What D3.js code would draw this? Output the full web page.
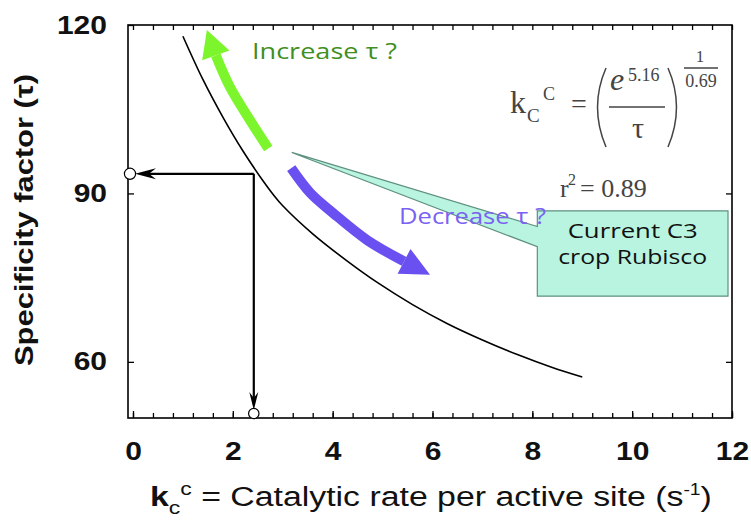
<!DOCTYPE html>
<html>
<head>
<meta charset="utf-8">
<script src="https://cdn.jsdelivr.net/npm/d3@7"></script>
<style>
  body { margin: 0; background: #fff; }
</style>
</head>
<body>
<div id="chart"></div>
<script>
// values
var kcat = [1.0, 1.4, 1.8, 2.2, 2.6, 2.8, 3.0, 3.6, 4.3, 4.9, 5.6, 6.3, 7.0, 7.7, 8.4, 9.0];
var tau  = [118, 110.3, 103.6, 97.6, 92.3, 89.9, 87.8, 82.8, 77.9, 74.1, 70.2, 66.8, 63.9, 61.3, 59.0, 57.3];
var currentPoint = [2.42, 93.5];          // current C3 crop rubisco (kc, tau)
var xMajor = [0, 2, 4, 6, 8, 10, 12];
var xMinor = d3.range(0, 12.001, 0.4);
var yMajor = [60, 90, 120];
var yRight = [60, 90];

var W = 751, H = 521;
var svg = d3.select("#chart").append("svg").attr("width", W).attr("height", H);

var x = d3.scaleLinear().domain([-0.1, 12]).range([128, 732]);
var y = d3.scaleLinear().domain([50, 120]).range([418, 25]);

var boldFont = "'Liberation Sans', Arial, sans-serif";
var serif = "'Liberation Serif', 'Times New Roman', serif";
var comic = "'Open Sans', sans-serif";

// callout (drawn first, texts go over it)
var bx0 = x(8.1), bx1 = x(11.92), by0 = y(86.9), by1 = y(71.7);
var tip = [x(3.18), y(97.3)];
svg.append("path")
  .attr("d", "M" + bx0 + "," + by0 + "L" + bx1 + "," + by0 + "L" + bx1 + "," + by1 +
             "L" + bx0 + "," + by1 + "L" + bx0 + "," + y(80.5) + "L" + tip[0] + "," + tip[1] +
             "L" + bx0 + "," + y(84.1) + "Z")
  .attr("fill", "#b8f4e0").attr("stroke", "#5f8f80").attr("stroke-width", 1.2);

svg.append("text").attr("x", (bx0 + bx1) / 2).attr("y", 238).attr("text-anchor", "middle")
  .attr("font-family", comic).attr("font-size", 20).attr("fill", "#111")
  .attr("textLength", 130).attr("lengthAdjust", "spacingAndGlyphs").text("Current C3");
svg.append("text").attr("x", (bx0 + bx1) / 2).attr("y", 264).attr("text-anchor", "middle")
  .attr("font-family", comic).attr("font-size", 20).attr("fill", "#111")
  .attr("textLength", 149).attr("lengthAdjust", "spacingAndGlyphs").text("crop Rubisco");

// the fitted curve
var pts = kcat.map(function (k, i) { return [k, tau[i]]; });
svg.append("path").datum(pts)
  .attr("d", d3.line().x(function (d) { return x(d[0]); }).y(function (d) { return y(d[1]); }).curve(d3.curveCatmullRom.alpha(0.5)))
  .attr("fill", "none").attr("stroke", "#000").attr("stroke-width", 1.6);

// thick arrows (body in data units, head from base to tip)
function bigArrow(body, tipPt, col, half) {
  var line = d3.line().x(function (d) { return x(d[0]); }).y(function (d) { return y(d[1]); }).curve(d3.curveCatmullRom);
  svg.append("path").attr("d", line(body)).attr("fill", "none").attr("stroke", col).attr("stroke-width", 10);
  var b = body[body.length - 1];
  var bx = x(b[0]), by = y(b[1]), tx = x(tipPt[0]), ty = y(tipPt[1]);
  var dx = tx - bx, dy = ty - by, L = Math.sqrt(dx * dx + dy * dy);
  var nx = -dy / L * half, ny = dx / L * half;
  svg.append("path")
    .attr("d", "M" + tx + "," + ty + "L" + (bx + nx) + "," + (by + ny) + "L" + (bx - nx) + "," + (by - ny) + "Z")
    .attr("fill", col);
}
bigArrow([[2.71, 98.0], [2.34, 103.1], [1.94, 109.0], [1.66, 114.6]], [1.48, 119.1], "#7df52c", 14.5);
bigArrow([[3.17, 94.5], [3.55, 90.1], [4.01, 86.5], [4.69, 81.7], [5.43, 77.9]], [5.95, 75.5], "#6a50f0", 14);

svg.append("text").attr("x", 252).attr("y", 59).attr("font-family", comic).attr("font-size", 22)
  .attr("fill", "#3f8f22").attr("textLength", 145).attr("lengthAdjust", "spacingAndGlyphs").text("Increase τ ?");
svg.append("text").attr("x", 399).attr("y", 224).attr("font-family", comic).attr("font-size", 22)
  .attr("fill", "#7a62f2").attr("textLength", 147).attr("lengthAdjust", "spacingAndGlyphs").text("Decrease τ ?");

// drop lines from the current rubisco point
var cx = x(currentPoint[0]), cy = y(currentPoint[1]);
var ax = x(-0.1), ay = y(50);
svg.append("path").attr("d", "M" + cx + "," + cy + "H" + (ax + 14) + "M" + cx + "," + cy + "V" + (ay - 14))
  .attr("stroke", "#000").attr("stroke-width", 2.2).attr("fill", "none");
svg.append("path")
  .attr("d", "M" + (ax + 7) + "," + cy + "L" + (ax + 28) + "," + (cy - 5.5) + "L" + (ax + 21) + "," + cy + "L" + (ax + 28) + "," + (cy + 5.5) + "Z")
  .attr("fill", "#000");
svg.append("path")
  .attr("d", "M" + cx + "," + (ay - 8) + "L" + (cx - 4.5) + "," + (ay - 26) + "L" + cx + "," + (ay - 20) + "L" + (cx + 4.5) + "," + (ay - 26) + "Z")
  .attr("fill", "#000");

// axes
function clean(g) {
  g.select(".domain").remove();
  g.selectAll("line").attr("stroke", "#000").attr("stroke-width", 1.3);
}
svg.append("g").attr("transform", "translate(0," + y(50) + ")")
  .call(d3.axisBottom(x).tickValues(xMinor).tickSize(-5).tickFormat("")).call(clean);
svg.append("g").attr("transform", "translate(0," + y(120) + ")")
  .call(d3.axisTop(x).tickValues(xMinor).tickSize(-5).tickFormat("")).call(clean);
var xa = svg.append("g").attr("transform", "translate(0," + y(50) + ")")
  .call(d3.axisBottom(x).tickValues(xMajor).tickSize(-7).tickPadding(24).tickFormat(d3.format("d"))).call(clean);
xa.selectAll("text").attr("font-family", boldFont).attr("font-weight", "bold").attr("font-size", 25)
  .attr("fill", "#111").attr("transform", "scale(1.2,1)");
var ya = svg.append("g").attr("transform", "translate(" + x(-0.1) + ",0)")
  .call(d3.axisLeft(y).tickValues(yMajor).tickSize(-6).tickPadding(17.5).tickFormat(d3.format("d"))).call(clean);
ya.selectAll("text").attr("font-family", boldFont).attr("font-weight", "bold").attr("font-size", 25)
  .attr("fill", "#111").attr("transform", "scale(1.2,1)");
svg.append("g").attr("transform", "translate(" + x(12) + ",0)")
  .call(d3.axisRight(y).tickValues(yRight).tickSize(-6).tickFormat("")).call(clean);

svg.append("rect").attr("x", x(-0.1)).attr("y", y(120)).attr("width", x(12) - x(-0.1)).attr("height", y(50) - y(120))
  .attr("fill", "none").attr("stroke", "#000").attr("stroke-width", 1.6);

// open circles on the axes
svg.append("circle").attr("cx", ax + 2).attr("cy", cy).attr("r", 5.6)
  .attr("fill", "#fff").attr("stroke", "#000").attr("stroke-width", 1.2);
svg.append("circle").attr("cx", cx).attr("cy", ay - 4.5).attr("r", 5.2)
  .attr("fill", "#fff").attr("stroke", "#000").attr("stroke-width", 1.2);

// axis titles
svg.append("text").attr("transform", "translate(33,220) rotate(-90)").attr("text-anchor", "middle")
  .attr("font-family", boldFont).attr("font-weight", "bold").attr("font-size", 25).attr("fill", "#111")
  .attr("textLength", 292).attr("lengthAdjust", "spacingAndGlyphs").text("Specificity factor (τ)");

var xt = svg.append("g");
var xl = xt.append("text").attr("x", 150).attr("y", 506).attr("font-family", boldFont).attr("font-size", 28).attr("fill", "#111");
xl.append("tspan").attr("font-weight", "bold").text("k");
xl.append("tspan").attr("font-size", 19).attr("dy", 8).text("c");
xl.append("tspan").attr("font-size", 19).attr("dy", -19).text("c");
xl.append("tspan").attr("dy", 11).text(" = Catalytic rate per active site (s");
xl.append("tspan").attr("font-size", 16).attr("dy", -11).text("-1");
xl.append("tspan").attr("dy", 11).text(")");
var bw = xl.node().getBBox().width;
xt.attr("transform", "translate(150,0) scale(" + (562 / bw) + ",1) translate(-150,0)");

// formula
var fcol = "#444";
function ft(px, py, size, txt, italic, anchor) {
  svg.append("text").attr("x", px).attr("y", py).attr("font-family", serif).attr("font-size", size)
    .attr("font-style", italic ? "italic" : "normal").attr("text-anchor", anchor || "start")
    .attr("fill", fcol).text(txt);
}
ft(510, 113, 32, "k");
ft(527, 122, 19, "C");
ft(543, 100, 18, "C");
ft(571, 113, 28, "=");
ft(610, 90, 32, "e", true);
ft(628, 81, 18, "5.16");
ft(638, 138, 30, "τ", false, "middle");
ft(700, 62, 17, "1", false, "middle");
ft(701, 87, 18, "0.69", false, "middle");
ft(560, 197, 26, "r");
ft(568, 185, 16, "2");
ft(580, 197, 26, "= 0.89");
svg.append("path").attr("d", "M609,107H665M684,68H718").attr("stroke", fcol).attr("stroke-width", 1.3);
svg.append("path").attr("d", "M606,68Q589,107 606,147M668,68Q685,107 668,147")
  .attr("fill", "none").attr("stroke", fcol).attr("stroke-width", 1.5);
</script>
</body>
</html>
